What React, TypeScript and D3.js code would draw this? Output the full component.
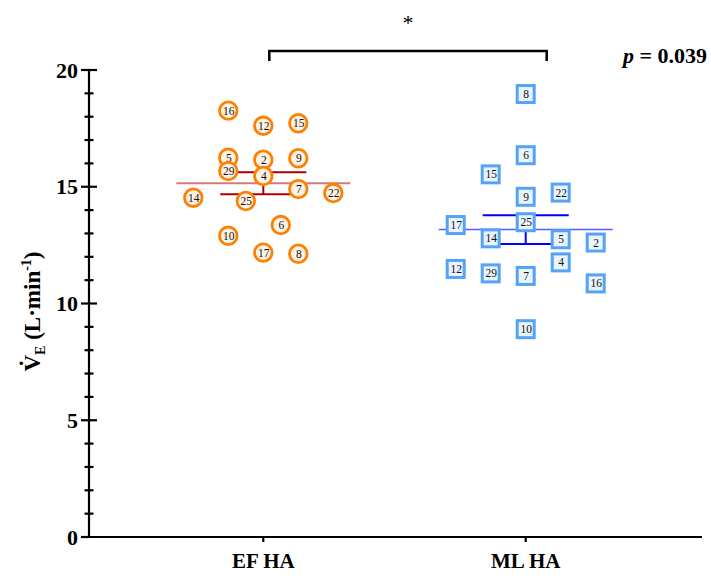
import React, { useRef, useEffect } from "react";
import * as d3 from "d3";

// group labels
const groups = ["EF HA", "ML HA"];

// EF HA: participant ids, values (L/min) and swarm slot (column) of each point
const efIds = [16, 12, 15, 5, 2, 9, 29, 4, 7, 14, 22, 25, 6, 10, 17, 8];
const efValues = [18.26, 17.61, 17.72, 16.24, 16.16, 16.22, 15.67, 15.46, 14.9, 14.53, 14.73, 14.39, 13.36, 12.9, 12.18, 12.13];
const efSlots = [-1, 0, 1, -1, 0, 1, -1, 0, 1, -2, 2, -0.5, 0.5, -1, 0, 1];

// ML HA
const mlIds = [8, 6, 15, 9, 22, 25, 17, 14, 5, 2, 4, 12, 29, 7, 16, 10];
const mlValues = [18.97, 16.35, 15.53, 14.57, 14.75, 13.48, 13.36, 12.79, 12.75, 12.61, 11.76, 11.48, 11.29, 11.18, 10.86, 8.9];
const mlSlots = [0, 0, -1, 0, 1, 0, -2, -1, 1, 2, 1, -2, -1, 0, 2, 0];

const yTicks = [0, 5, 10, 15, 20];
const pLabel = "0.039";

const FONT = "'Liberation Serif', 'Times New Roman', serif";

const App = () => {
  const svgRef = useRef(null);

  useEffect(() => {
    const width = 711;
    const height = 581;
    const margin = { top: 70, right: 9, bottom: 44, left: 89 };

    const svg = d3.select(svgRef.current);
    svg.selectAll("*").remove();

    const y = d3.scaleLinear().domain([0, 20]).range([height - margin.bottom, margin.top]);
    const x = d3.scalePoint().domain(groups).range([263.3, 525.7]);
    const slot = d3.scaleLinear().domain([-2, 2]).range([-70, 70]);

    const series = [
      { name: groups[0], ids: efIds, values: efValues, slots: efSlots, shape: "circle",
        stroke: "#ff8000", fill: "#fff1e3", meanColor: "#d47a7a", errColor: "#a80000", meanWidth: 2 },
      { name: groups[1], ids: mlIds, values: mlValues, slots: mlSlots, shape: "square",
        stroke: "#55a3f7", fill: "#eaf4ff", meanColor: "#5a5aff", errColor: "#0000ff", meanWidth: 1.5 },
    ];

    const g = svg.append("g");

    /*** mean ± SEM ***/
    series.forEach((s) => {
      const cx = x(s.name);
      const mean = d3.mean(s.values);
      const sem = d3.deviation(s.values) / Math.sqrt(s.values.length);
      g.append("line")
        .attr("x1", cx - 87).attr("x2", cx + 87)
        .attr("y1", y(mean)).attr("y2", y(mean))
        .attr("stroke", s.meanColor).attr("stroke-width", s.meanWidth);
      g.append("line")
        .attr("x1", cx).attr("x2", cx)
        .attr("y1", y(mean + sem)).attr("y2", y(mean - sem))
        .attr("stroke", s.errColor).attr("stroke-width", 2);
      [mean + sem, mean - sem].forEach((v) => {
        g.append("line")
          .attr("x1", cx - 43).attr("x2", cx + 43)
          .attr("y1", y(v)).attr("y2", y(v))
          .attr("stroke", s.errColor).attr("stroke-width", 2);
      });
    });

    /*** points ***/
    series.forEach((s) => {
      const pts = s.values.map((v, i) => ({ v, id: s.ids[i], px: x(s.name) + slot(s.slots[i]) }));
      const pg = g.append("g");
      pts.forEach((p) => {
        if (s.shape === "circle") {
          pg.append("circle")
            .attr("cx", p.px).attr("cy", y(p.v)).attr("r", 8.8)
            .attr("fill", s.fill).attr("stroke", s.stroke).attr("stroke-width", 2.8);
        } else {
          pg.append("rect")
            .attr("x", p.px - 8.5).attr("y", y(p.v) - 8.5)
            .attr("width", 17).attr("height", 17)
            .attr("fill", s.fill).attr("stroke", s.stroke).attr("stroke-width", 3);
        }
        pg.append("text")
          .attr("x", p.px + 0.5).attr("y", y(p.v) + 4)
          .attr("text-anchor", "middle")
          .attr("font-family", FONT).attr("font-size", 11.5)
          .attr("fill", "#111")
          .text(p.id);
      });
    });

    /*** axes ***/
    const ax = svg.append("g").attr("stroke", "#000").attr("stroke-width", 2.2);
    ax.append("line")
      .attr("x1", margin.left).attr("x2", margin.left)
      .attr("y1", y(20) - 1).attr("y2", y(0));
    ax.append("line")
      .attr("x1", margin.left - 1).attr("x2", width - margin.right)
      .attr("y1", y(0)).attr("y2", y(0));

    d3.range(0, 21).forEach((t) => {
      const major = t % 5 === 0;
      if (t === 0) {
        ax.append("line").attr("x1", margin.left - 8).attr("x2", margin.left)
          .attr("y1", y(t)).attr("y2", y(t));
        return;
      }
      ax.append("line")
        .attr("x1", margin.left - (major ? 8 : 4.5)).attr("x2", margin.left + (major ? 8 : 4.5))
        .attr("y1", y(t)).attr("y2", y(t));
    });

    svg.append("g").selectAll("text").data(yTicks).enter().append("text")
      .attr("x", margin.left - 11).attr("y", (d) => y(d) + 7.5)
      .attr("text-anchor", "end")
      .attr("font-family", FONT).attr("font-weight", "bold").attr("font-size", 22)
      .text((d) => d);

    groups.forEach((grp) => {
      ax.append("line")
        .attr("x1", x(grp)).attr("x2", x(grp))
        .attr("y1", y(0)).attr("y2", y(0) + 5);
      svg.append("text")
        .attr("x", x(grp)).attr("y", y(0) + 31)
        .attr("text-anchor", "middle")
        .attr("font-family", FONT).attr("font-weight", "bold").attr("font-size", 21)
        .text(grp);
    });

    /*** y axis title ***/
    const title = svg.append("text")
      .attr("transform", `translate(40, ${(y(0) + y(20)) / 2 + 8}) rotate(-90)`)
      .attr("text-anchor", "middle")
      .attr("font-family", FONT).attr("font-weight", "bold").attr("font-size", 23);
    title.append("tspan").text("V\u0307");
    title.append("tspan").attr("font-size", 14).attr("dy", 5).text("E");
    title.append("tspan").attr("dy", -5).text(" (L\u00B7min");
    title.append("tspan").attr("font-size", 14).attr("dy", -9).text("-1");
    title.append("tspan").attr("dy", 9).text(")");

    /*** significance bracket ***/
    const bx1 = x(groups[0]) + 6;
    const bx2 = x(groups[1]) + 21;
    svg.append("path")
      .attr("d", `M${bx1},61 V51 H${bx2} V61`)
      .attr("fill", "none").attr("stroke", "#000").attr("stroke-width", 2.5);
    svg.append("text")
      .attr("x", (bx1 + bx2) / 2).attr("y", 30)
      .attr("text-anchor", "middle")
      .attr("font-family", FONT).attr("font-size", 22)
      .text("*");

    const pt = svg.append("text")
      .attr("x", 707).attr("y", 63)
      .attr("text-anchor", "end")
      .attr("font-family", FONT).attr("font-weight", "bold").attr("font-size", 22);
    pt.append("tspan").attr("font-style", "italic").text("p");
    pt.append("tspan").text(` = ${pLabel}`);
  }, []);

  return (
    <svg
      ref={svgRef}
      width={711}
      height={581}
      style={{ position: "absolute", left: 0, top: 0, background: "#fff" }}
    ></svg>
  );
};

export default App;
